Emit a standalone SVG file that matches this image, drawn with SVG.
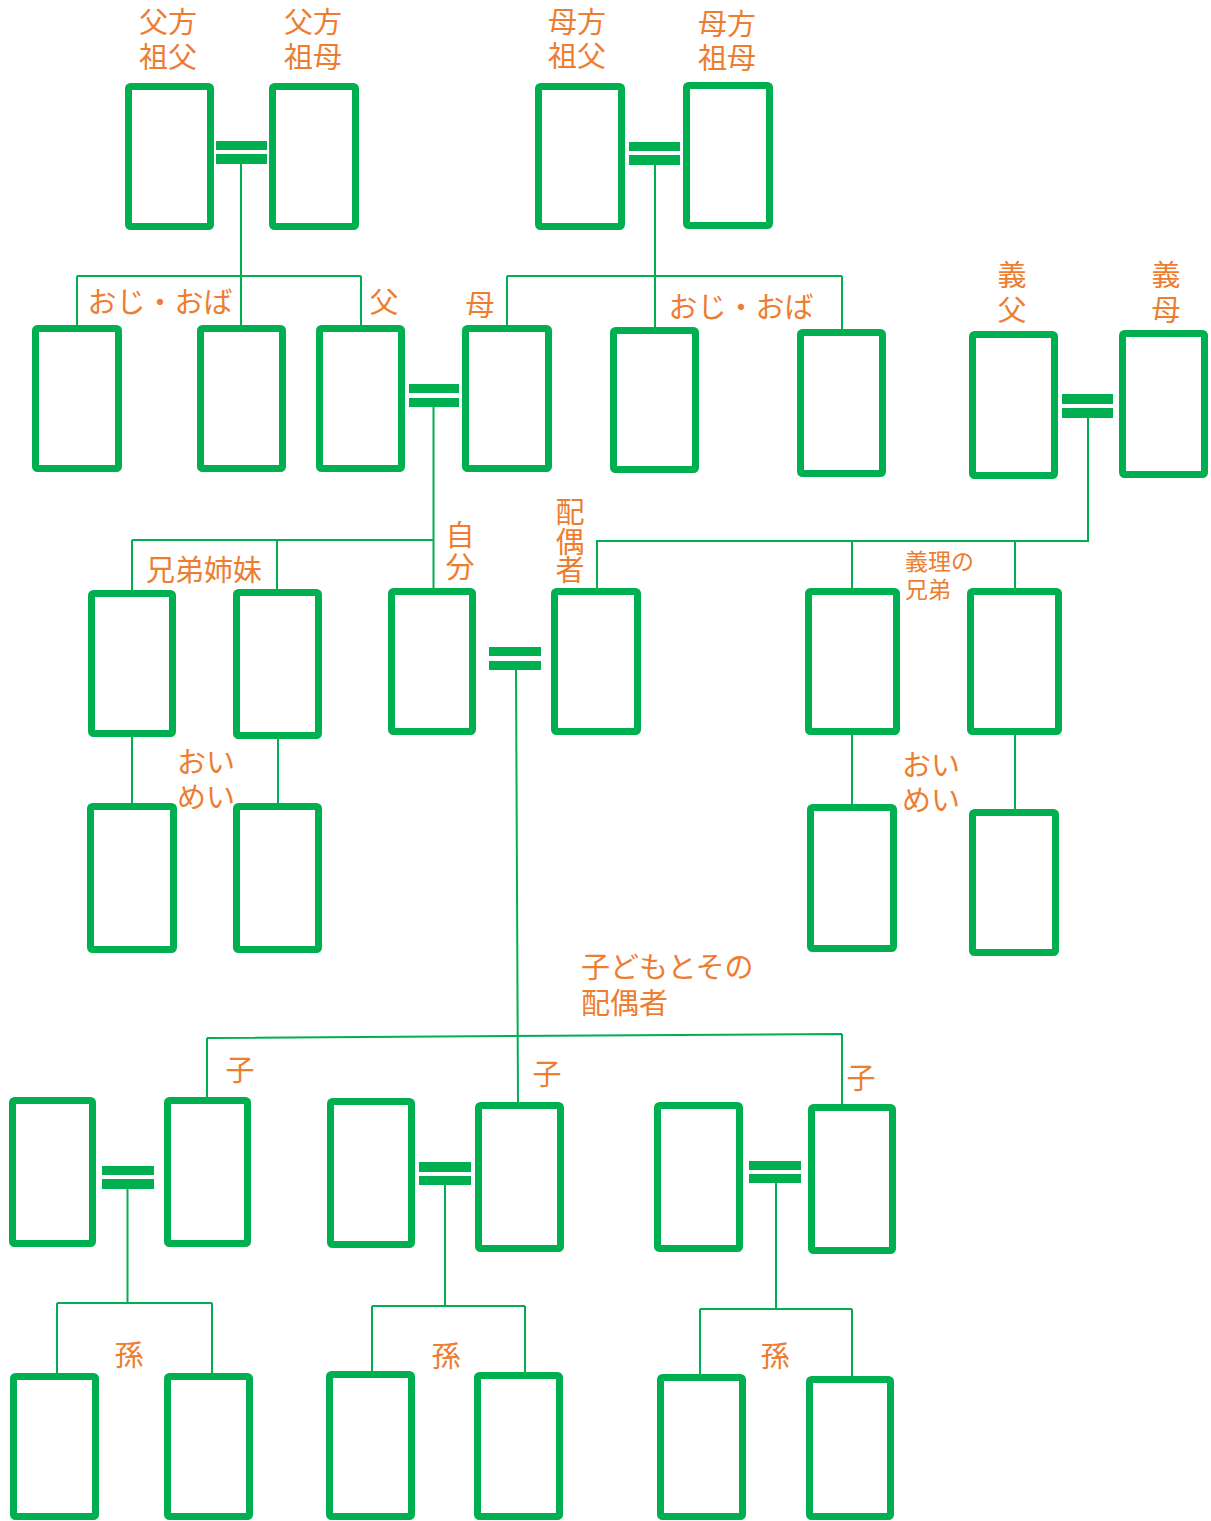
<svg xmlns="http://www.w3.org/2000/svg" width="1211" height="1521" viewBox="0 0 1211 1521">
<style>
.box{fill:#fff;stroke:#00B050;stroke-width:7}
.bar{fill:#00B050}
.ln{fill:none;stroke:#00B050;stroke-width:2}
.t{font-family:"Noto Sans CJK JP","Noto Sans",sans-serif;font-size:29px;fill:#ED7D31}
.c{text-anchor:middle}
.s{font-size:23px}
</style>
<rect width="1211" height="1521" fill="#fff"/>
<g id="connectors">
<path class="ln" d="M241 164V325M77 276H361M77 276V325M361 276V325"/>
<path class="ln" d="M655 165V328M507 276H842M507 276V325M842 276V330"/>
<path class="ln" d="M433.5 407V588M132 540H433.5M132 540V590M277 540V589"/>
<path class="ln" d="M597 588V541H1089M1088 418V541M852 541V589M1015 541V588"/>
<path class="ln" d="M132 737V803M278 739V803M852 735V804M1015 735V809"/>
<path class="ln" d="M516 670L518 1102M207 1038L842 1034M207 1038V1097M842 1034V1104"/>
<path class="ln" d="M127.5 1189V1303M57 1303H212M57 1303V1373M212 1303V1373"/>
<path class="ln" d="M445 1185V1306M372 1306H525M372 1306V1371M525 1306V1372"/>
<path class="ln" d="M776 1183V1309M700 1309H852M700 1309V1374M852 1309V1376"/>
</g>
<g id="marriages">
<rect class="bar" x="216" y="141" width="51" height="9"/><rect class="bar" x="216" y="154" width="51" height="10"/>
<rect class="bar" x="629" y="142" width="51" height="9"/><rect class="bar" x="629" y="155" width="51" height="10"/>
<rect class="bar" x="409" y="384" width="50" height="9"/><rect class="bar" x="409" y="398" width="50" height="9"/>
<rect class="bar" x="1062" y="394" width="51" height="10"/><rect class="bar" x="1062" y="408" width="51" height="10"/>
<rect class="bar" x="489" y="647" width="52" height="9"/><rect class="bar" x="489" y="661" width="52" height="9"/>
<rect class="bar" x="102" y="1166" width="52" height="9"/><rect class="bar" x="102" y="1179" width="52" height="10"/>
<rect class="bar" x="419" y="1162" width="52" height="10"/><rect class="bar" x="419" y="1176" width="52" height="9"/>
<rect class="bar" x="749" y="1161" width="52" height="9"/><rect class="bar" x="749" y="1174" width="52" height="9"/>
</g>
<g id="n1"><rect class="box" x="128.5" y="86.5" width="82" height="140" rx="2"/><text class="t c" x="168" y="33">父方<tspan x="168" dy="35">祖父</tspan></text></g>
<g id="n2"><rect class="box" x="272.5" y="86.5" width="83" height="140" rx="2"/><text class="t c" x="313" y="33">父方<tspan x="313" dy="35">祖母</tspan></text></g>
<g id="n3"><rect class="box" x="538.5" y="86.5" width="83" height="140" rx="2"/><text class="t c" x="577" y="33">母方<tspan x="577" dy="34">祖父</tspan></text></g>
<g id="n4"><rect class="box" x="686.5" y="85.5" width="83" height="140" rx="2"/><text class="t c" x="727" y="35">母方<tspan x="727" dy="34">祖母</tspan></text></g>
<g id="n5"><rect class="box" x="35.5" y="328.5" width="83" height="140" rx="2"/><text class="t c" x="160" y="313">おじ・おば</text></g>
<g id="n6"><rect class="box" x="200.5" y="328.5" width="82" height="140" rx="2"/></g>
<g id="n7"><rect class="box" x="319.5" y="328.5" width="82" height="140" rx="2"/><text class="t c" x="384" y="313">父</text></g>
<g id="n8"><rect class="box" x="465.5" y="328.5" width="83" height="140" rx="2"/><text class="t c" x="480" y="316">母</text></g>
<g id="n9"><rect class="box" x="613.5" y="330.5" width="82" height="139" rx="2"/><text class="t c" x="741" y="318">おじ・おば</text></g>
<g id="n10"><rect class="box" x="800.5" y="332.5" width="82" height="141" rx="2"/></g>
<g id="n11"><rect class="box" x="972.5" y="334.5" width="82" height="141" rx="2"/><text class="t c" x="1012" y="286">義<tspan x="1012" dy="35">父</tspan></text></g>
<g id="n12"><rect class="box" x="1122.5" y="333.5" width="82" height="141" rx="2"/><text class="t c" x="1166" y="286">義<tspan x="1166" dy="35">母</tspan></text></g>
<g id="n13"><rect class="box" x="91.5" y="593.5" width="81" height="140" rx="2"/><text class="t c" x="204" y="581">兄弟姉妹</text></g>
<g id="n14"><rect class="box" x="236.5" y="592.5" width="82" height="143" rx="2"/></g>
<g id="n15"><rect class="box" x="391.5" y="591.5" width="81" height="140" rx="2"/><text class="t c" x="460" y="546">自<tspan x="460" dy="32">分</tspan></text></g>
<g id="n16"><rect class="box" x="554.5" y="591.5" width="83" height="140" rx="2"/><text class="t c" x="570" y="523">配<tspan x="570" dy="30">偶</tspan><tspan x="570" dy="28">者</tspan></text></g>
<g id="n17"><rect class="box" x="808.5" y="591.5" width="88" height="140" rx="2"/><text class="t s" x="905" y="570">義理の<tspan x="905" dy="28">兄弟</tspan></text></g>
<g id="n18"><rect class="box" x="970.5" y="591.5" width="88" height="140" rx="2"/></g>
<g id="n19"><rect class="box" x="90.5" y="806.5" width="83" height="143" rx="2"/><text class="t" x="177" y="773">おい<tspan x="177" dy="35">めい</tspan></text></g>
<g id="n20"><rect class="box" x="236.5" y="806.5" width="82" height="143" rx="2"/></g>
<g id="n21"><rect class="box" x="810.5" y="807.5" width="83" height="141" rx="2"/><text class="t" x="902" y="776">おい<tspan x="902" dy="35">めい</tspan></text></g>
<g id="n22"><rect class="box" x="972.5" y="812.5" width="83" height="140" rx="2"/></g>
<g id="lbl-children"><text class="t" x="581" y="978">子どもとその<tspan x="581" dy="36">配偶者</tspan></text></g>
<g id="n23"><rect class="box" x="12.5" y="1100.5" width="80" height="143" rx="2"/></g>
<g id="n24"><rect class="box" x="167.5" y="1100.5" width="80" height="143" rx="2"/><text class="t c" x="240" y="1081">子</text></g>
<g id="n25"><rect class="box" x="330.5" y="1101.5" width="81" height="143" rx="2"/></g>
<g id="n26"><rect class="box" x="478.5" y="1105.5" width="82" height="143" rx="2"/><text class="t c" x="547" y="1085">子</text></g>
<g id="n27"><rect class="box" x="657.5" y="1105.5" width="82" height="143" rx="2"/></g>
<g id="n28"><rect class="box" x="811.5" y="1107.5" width="81" height="143" rx="2"/><text class="t c" x="861" y="1089">子</text></g>
<g id="n29"><rect class="box" x="13.5" y="1376.5" width="82" height="140" rx="2"/><text class="t c" x="129" y="1366">孫</text></g>
<g id="n30"><rect class="box" x="167.5" y="1376.5" width="82" height="140" rx="2"/></g>
<g id="n31"><rect class="box" x="329.5" y="1374.5" width="82" height="142" rx="2"/><text class="t c" x="446" y="1367">孫</text></g>
<g id="n32"><rect class="box" x="477.5" y="1375.5" width="82" height="141" rx="2"/></g>
<g id="n33"><rect class="box" x="660.5" y="1377.5" width="82" height="139" rx="2"/><text class="t c" x="775" y="1367">孫</text></g>
<g id="n34"><rect class="box" x="809.5" y="1379.5" width="81" height="137" rx="2"/></g>
</svg>
